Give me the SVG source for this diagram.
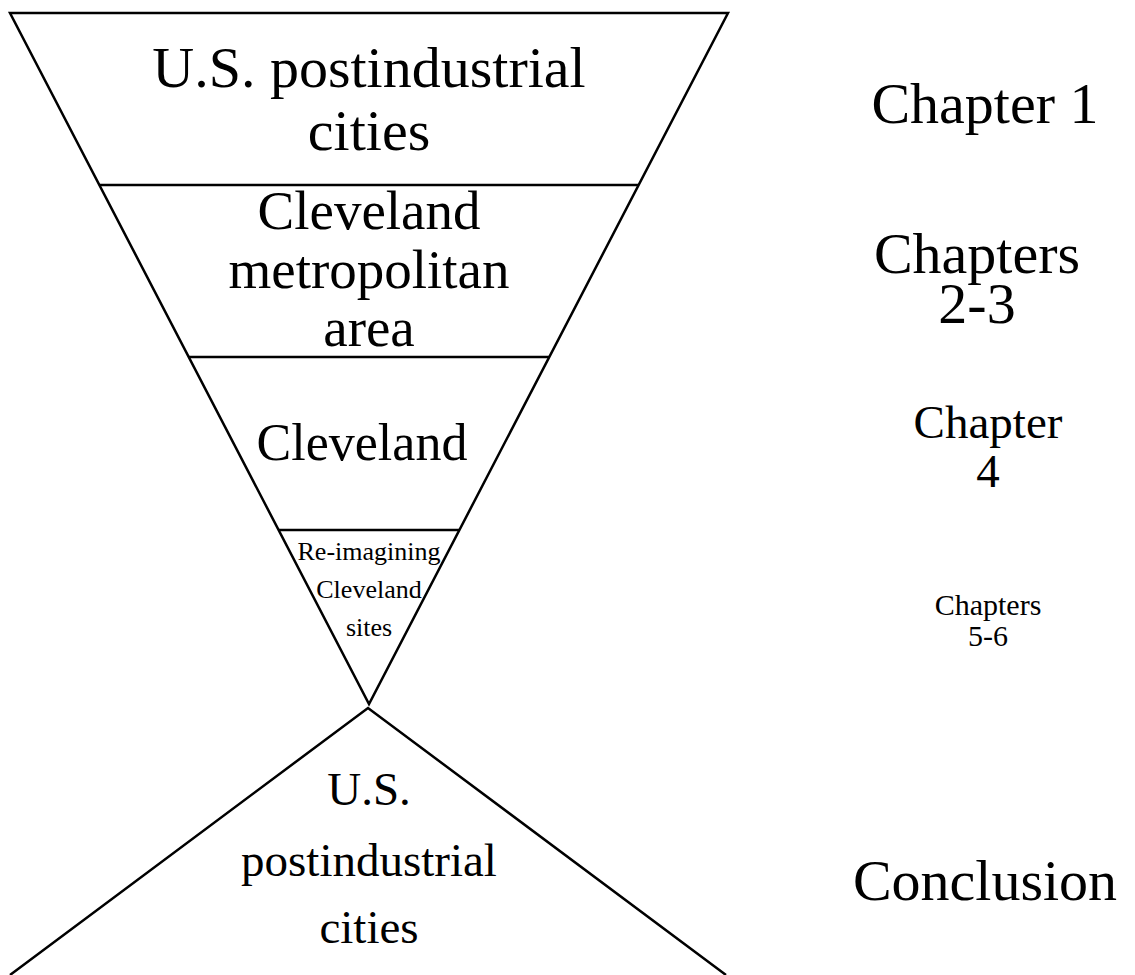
<svg xmlns="http://www.w3.org/2000/svg" width="1135" height="975" viewBox="0 0 1135 975">
<style>
.ln{fill:none;stroke:#000;stroke-width:2.5;stroke-linejoin:miter}
text{font-family:"Liberation Serif","Times New Roman",serif;fill:#000;text-anchor:middle}
</style>
<rect width="1135" height="975" fill="#fff"/>
<g id="connectors">
<polygon class="ln" points="10,13 728,13 369,704"/>
<line class="ln" x1="99" y1="185" x2="639" y2="185"/>
<line class="ln" x1="189" y1="357" x2="549" y2="357"/>
<line class="ln" x1="279" y1="530" x2="459" y2="530"/>
<polyline class="ln" points="10,975 368,708 726,975"/>
</g>
<g id="level1" font-size="58"><text x="369" y="87">U.S. postindustrial</text><text x="369" y="150">cities</text></g>
<g id="level2" font-size="55"><text x="369" y="229">Cleveland</text><text x="369" y="288">metropolitan</text><text x="369" y="346">area</text></g>
<g id="level3" font-size="52"><text x="362" y="460">Cleveland</text></g>
<g id="level4" font-size="26"><text x="369" y="560">Re-imagining</text><text x="369" y="598">Cleveland</text><text x="369" y="636">sites</text></g>
<g id="level5" font-size="47"><text x="369" y="805">U.S.</text><text x="369" y="876">postindustrial</text><text x="369" y="943">cities</text></g>
<g id="ch1" font-size="58"><text x="985" y="123">Chapter 1</text></g>
<g id="ch23" font-size="58"><text x="977" y="273">Chapters</text><text x="977" y="323">2-3</text></g>
<g id="ch4" font-size="47"><text x="988" y="438">Chapter</text><text x="988" y="487">4</text></g>
<g id="ch56" font-size="30"><text x="988" y="615">Chapters</text><text x="988" y="646">5-6</text></g>
<g id="concl" font-size="58"><text x="985" y="900">Conclusion</text></g>
</svg>
